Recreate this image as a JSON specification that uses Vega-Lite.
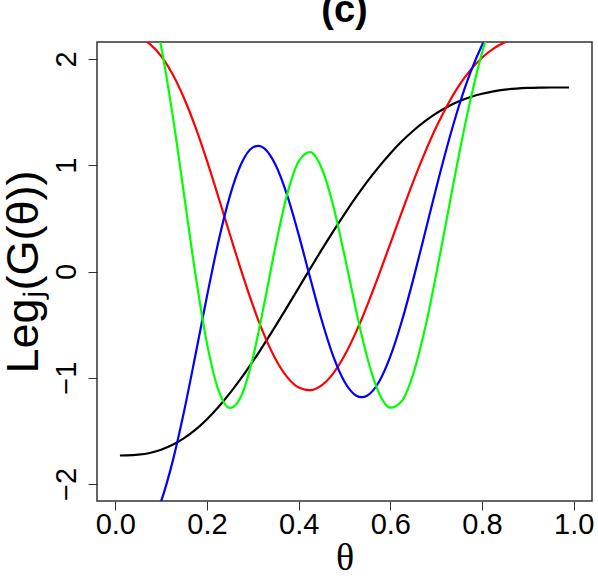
{
  "$schema": "https://vega.github.io/schema/vega-lite/v6.json",
  "width": 495,
  "height": 459,
  "autosize": {"type": "none"},
  "padding": {"left": 97, "top": 42, "right": 6, "bottom": 80},
  "background": "white",
  "config": {"view": {"stroke": "#333333", "strokeWidth": 1.5}, "font": "Liberation Sans"},
  "title": {"text": "(c)", "fontSize": 38, "fontWeight": "bold", "font": "Liberation Sans", "anchor": "middle", "frame": "group", "baseline": "alphabetic", "offset": -18, "color": "black"},
  "data": {"values": [
    {"theta":0.01,"curve":"1","value":-1.732},{"theta":0.01,"curve":"2","value":2.236},{"theta":0.01,"curve":"3","value":-2.646},{"theta":0.01,"curve":"4","value":3.0},
    {"theta":0.025,"curve":"1","value":-1.731},{"theta":0.025,"curve":"2","value":2.232},{"theta":0.025,"curve":"3","value":-2.636},{"theta":0.025,"curve":"4","value":2.982},
    {"theta":0.05,"curve":"1","value":-1.724},{"theta":0.05,"curve":"2","value":2.206},{"theta":0.05,"curve":"3","value":-2.575},{"theta":0.05,"curve":"4","value":2.868},
    {"theta":0.075,"curve":"1","value":-1.708},{"theta":0.075,"curve":"2","value":2.142},{"theta":0.075,"curve":"3","value":-2.425},{"theta":0.075,"curve":"4","value":2.588},
    {"theta":0.1,"curve":"1","value":-1.677},{"theta":0.1,"curve":"2","value":2.027},{"theta":0.1,"curve":"3","value":-2.162},{"theta":0.1,"curve":"4","value":2.115},
    {"theta":0.125,"curve":"1","value":-1.631},{"theta":0.125,"curve":"2","value":1.857},{"theta":0.125,"curve":"3","value":-1.787},{"theta":0.125,"curve":"4","value":1.471},
    {"theta":0.15,"curve":"1","value":-1.568},{"theta":0.15,"curve":"2","value":1.631},{"theta":0.15,"curve":"3","value":-1.315},{"theta":0.15,"curve":"4","value":0.721},
    {"theta":0.175,"curve":"1","value":-1.488},{"theta":0.175,"curve":"2","value":1.356},{"theta":0.175,"curve":"3","value":-0.781},{"theta":0.175,"curve":"4","value":-0.033},
    {"theta":0.2,"curve":"1","value":-1.39},{"theta":0.2,"curve":"2","value":1.041},{"theta":0.2,"curve":"3","value":-0.231},{"theta":0.2,"curve":"4","value":-0.679},
    {"theta":0.225,"curve":"1","value":-1.275},{"theta":0.225,"curve":"2","value":0.699},{"theta":0.225,"curve":"3","value":0.283},{"theta":0.225,"curve":"4","value":-1.117},
    {"theta":0.25,"curve":"1","value":-1.145},{"theta":0.25,"curve":"2","value":0.348},{"theta":0.25,"curve":"3","value":0.712},{"theta":0.25,"curve":"4","value":-1.285},
    {"theta":0.275,"curve":"1","value":-1.002},{"theta":0.275,"curve":"2","value":0.004},{"theta":0.275,"curve":"3","value":1.016},{"theta":0.275,"curve":"4","value":-1.169},
    {"theta":0.3,"curve":"1","value":-0.846},{"theta":0.3,"curve":"2","value":-0.317},{"theta":0.3,"curve":"3","value":1.168},{"theta":0.3,"curve":"4","value":-0.813},
    {"theta":0.3125,"curve":"1","value":-0.765},{"theta":0.3125,"curve":"2","value":-0.464},{"theta":0.3125,"curve":"3","value":1.183},{"theta":0.3125,"curve":"4","value":-0.57},
    {"theta":0.325,"curve":"1","value":-0.682},{"theta":0.325,"curve":"2","value":-0.599},{"theta":0.325,"curve":"3","value":1.159},{"theta":0.325,"curve":"4","value":-0.302},
    {"theta":0.35,"curve":"1","value":-0.51},{"theta":0.35,"curve":"2","value":-0.828},{"theta":0.35,"curve":"3","value":0.999},{"theta":0.35,"curve":"4","value":0.25},
    {"theta":0.375,"curve":"1","value":-0.333},{"theta":0.375,"curve":"2","value":-0.994},{"theta":0.375,"curve":"3","value":0.716},{"theta":0.375,"curve":"4","value":0.728},
    {"theta":0.4,"curve":"1","value":-0.154},{"theta":0.4,"curve":"2","value":-1.092},{"theta":0.4,"curve":"3","value":0.347},{"theta":0.4,"curve":"4","value":1.037},
    {"theta":0.425,"curve":"1","value":0.026},{"theta":0.425,"curve":"2","value":-1.117},{"theta":0.425,"curve":"3","value":-0.059},{"theta":0.425,"curve":"4","value":1.123},
    {"theta":0.45,"curve":"1","value":0.203},{"theta":0.45,"curve":"2","value":-1.072},{"theta":0.45,"curve":"3","value":-0.454},{"theta":0.45,"curve":"4","value":0.974},
    {"theta":0.475,"curve":"1","value":0.375},{"theta":0.475,"curve":"2","value":-0.961},{"theta":0.475,"curve":"3","value":-0.792},{"theta":0.475,"curve":"4","value":0.626},
    {"theta":0.5,"curve":"1","value":0.541},{"theta":0.5,"curve":"2","value":-0.791},{"theta":0.5,"curve":"3","value":-1.038},{"theta":0.5,"curve":"4","value":0.152},
    {"theta":0.525,"curve":"1","value":0.699},{"theta":0.525,"curve":"2","value":-0.571},{"theta":0.525,"curve":"3","value":-1.167},{"theta":0.525,"curve":"4","value":-0.36},
    {"theta":0.5375,"curve":"1","value":0.775},{"theta":0.5375,"curve":"2","value":-0.447},{"theta":0.5375,"curve":"3","value":-1.183},{"theta":0.5375,"curve":"4","value":-0.601},
    {"theta":0.55,"curve":"1","value":0.848},{"theta":0.55,"curve":"2","value":-0.314},{"theta":0.55,"curve":"3","value":-1.167},{"theta":0.55,"curve":"4","value":-0.817},
    {"theta":0.575,"curve":"1","value":0.985},{"theta":0.575,"curve":"2","value":-0.032},{"theta":0.575,"curve":"3","value":-1.04},{"theta":0.575,"curve":"4","value":-1.141},
    {"theta":0.6,"curve":"1","value":1.111},{"theta":0.6,"curve":"2","value":0.263},{"theta":0.6,"curve":"3","value":-0.799},{"theta":0.6,"curve":"4","value":-1.282},
    {"theta":0.625,"curve":"1","value":1.225},{"theta":0.625,"curve":"2","value":0.559},{"theta":0.625,"curve":"3","value":-0.468},{"theta":0.625,"curve":"4","value":-1.219},
    {"theta":0.65,"curve":"1","value":1.325},{"theta":0.65,"curve":"2","value":0.846},{"theta":0.65,"curve":"3","value":-0.074},{"theta":0.65,"curve":"4","value":-0.963},
    {"theta":0.675,"curve":"1","value":1.413},{"theta":0.675,"curve":"2","value":1.114},{"theta":0.675,"curve":"3","value":0.353},{"theta":0.675,"curve":"4","value":-0.549},
    {"theta":0.7,"curve":"1","value":1.488},{"theta":0.7,"curve":"2","value":1.357},{"theta":0.7,"curve":"3","value":0.784},{"theta":0.7,"curve":"4","value":-0.029},
    {"theta":0.725,"curve":"1","value":1.551},{"theta":0.725,"curve":"2","value":1.57},{"theta":0.725,"curve":"3","value":1.193},{"theta":0.725,"curve":"4","value":0.54},
    {"theta":0.75,"curve":"1","value":1.602},{"theta":0.75,"curve":"2","value":1.751},{"theta":0.75,"curve":"3","value":1.562},{"theta":0.75,"curve":"4","value":1.104},
    {"theta":0.775,"curve":"1","value":1.642},{"theta":0.775,"curve":"2","value":1.898},{"theta":0.775,"curve":"3","value":1.876},{"theta":0.775,"curve":"4","value":1.62},
    {"theta":0.8,"curve":"1","value":1.673},{"theta":0.8,"curve":"2","value":2.012},{"theta":0.8,"curve":"3","value":2.13},{"theta":0.8,"curve":"4","value":2.058},
    {"theta":0.825,"curve":"1","value":1.696},{"theta":0.825,"curve":"2","value":2.098},{"theta":0.825,"curve":"3","value":2.324},{"theta":0.825,"curve":"4","value":2.404},
    {"theta":0.85,"curve":"1","value":1.712},{"theta":0.85,"curve":"2","value":2.158},{"theta":0.85,"curve":"3","value":2.462},{"theta":0.85,"curve":"4","value":2.656},
    {"theta":0.875,"curve":"1","value":1.722},{"theta":0.875,"curve":"2","value":2.196},{"theta":0.875,"curve":"3","value":2.552},{"theta":0.875,"curve":"4","value":2.824},
    {"theta":0.9,"curve":"1","value":1.728},{"theta":0.9,"curve":"2","value":2.219},{"theta":0.9,"curve":"3","value":2.606},{"theta":0.9,"curve":"4","value":2.924},
    {"theta":0.925,"curve":"1","value":1.731},{"theta":0.925,"curve":"2","value":2.23},{"theta":0.925,"curve":"3","value":2.633},{"theta":0.925,"curve":"4","value":2.975},
    {"theta":0.95,"curve":"1","value":1.732},{"theta":0.95,"curve":"2","value":2.235},{"theta":0.95,"curve":"3","value":2.643},{"theta":0.95,"curve":"4","value":2.995},
    {"theta":0.975,"curve":"1","value":1.732},{"theta":0.975,"curve":"2","value":2.236},{"theta":0.975,"curve":"3","value":2.646},{"theta":0.975,"curve":"4","value":3.0},
    {"theta":0.99,"curve":"1","value":1.732},{"theta":0.99,"curve":"2","value":2.236},{"theta":0.99,"curve":"3","value":2.646},{"theta":0.99,"curve":"4","value":3.0}
  ]},
  "mark": {"type": "line", "interpolate": "monotone", "strokeWidth": 2.2, "clip": true},
  "encoding": {
    "x": {
      "field": "theta", "type": "quantitative",
      "scale": {"domain": [-0.04, 1.04], "nice": false, "zero": false},
      "axis": {"values": [0, 0.2, 0.4, 0.6, 0.8, 1], "format": ".1f", "grid": false, "domain": false,
        "tickSize": 9, "tickColor": "#333333", "tickWidth": 1,
        "labelFontSize": 29, "labelColor": "black", "labelPadding": 0, "labelFont": "Liberation Sans", "labelFlush": false, "labelOverlap": false,
        "title": "θ", "titleFont": "Liberation Serif", "titleFontSize": 38, "titleFontWeight": "normal", "titlePadding": 0, "titleColor": "black"}
    },
    "y": {
      "field": "value", "type": "quantitative",
      "scale": {"domain": [-2.16, 2.16], "nice": false, "zero": false},
      "axis": {"values": [-2, -1, 0, 1, 2], "format": "d", "grid": false, "domain": false,
        "tickSize": 9, "tickColor": "#333333", "tickWidth": 1,
        "labelFontSize": 29, "labelColor": "black", "labelAngle": 270, "labelAlign": "center", "labelBaseline": "alphabetic", "labelPadding": 13, "labelFont": "Liberation Sans", "labelFlush": false, "labelOverlap": false,
        "title": "Legⱼ(G(θ))", "titleFont": "Liberation Sans", "titleFontSize": 45, "titleFontWeight": "normal", "titlePadding": 6, "titleColor": "black"}
    },
    "color": {
      "field": "curve", "type": "nominal",
      "scale": {"domain": ["1", "2", "3", "4"], "range": ["#000000", "#ff0000", "#0000ff", "#00ff00"]},
      "legend": null
    }
  }
}
